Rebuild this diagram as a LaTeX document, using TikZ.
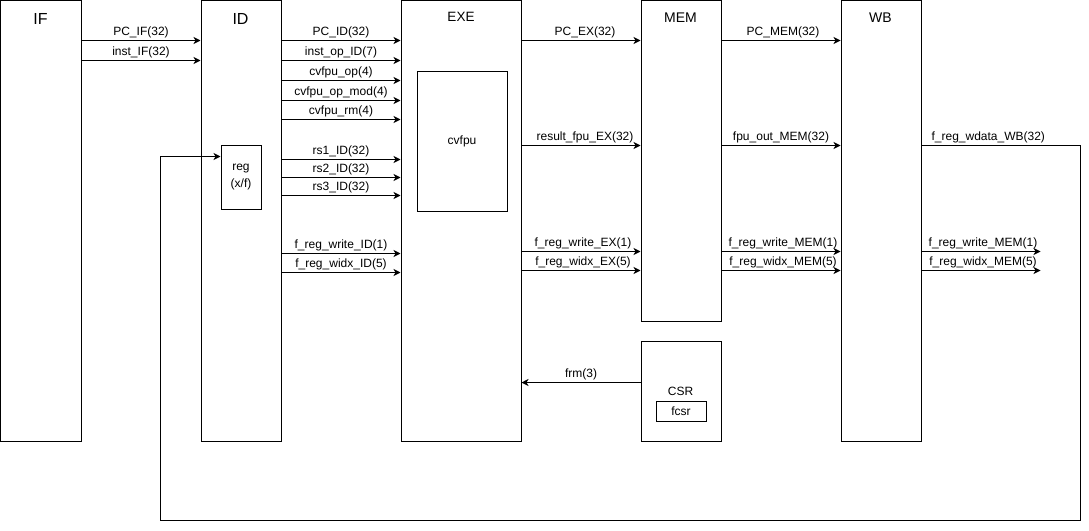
\documentclass[tikz,border=0pt]{standalone}
\usepackage{fontspec}
\setmainfont{Liberation Sans}
\usetikzlibrary{arrows.meta}
\newcommand{\sg}[5][]{\draw[sig] (#2.east |- 0,#4) -- node[lbl,#1]{#5} (#3.west |- 0,#4);}
\begin{document}
\begin{tikzpicture}[x=1pt,y=-1pt,
  every node/.style={font=\fontsize{12}{14}\selectfont},
  box/.style={draw, line width=1pt, anchor=north west, inner sep=0pt},
  sig/.style={line width=1pt, -{Stealth[length=7pt,width=7pt,inset=2pt]}},
  lbl/.style={above, inner sep=0pt, yshift=2.5pt},
  ttl/.style={inner sep=0pt}]
\useasboundingbox (-0.5,-0.5) rectangle (1088.5,529.5);
% stages
\node[box, minimum width=80pt, minimum height=440pt] (IF) at (0,0) {};
\node[box, minimum width=80pt, minimum height=440pt] (ID) at (200,0) {};
\node[box, minimum width=120pt, minimum height=440pt] (EXE) at (400,0) {};
\node[box, minimum width=80pt, minimum height=320pt] (MEM) at (640,0) {};
\node[box, minimum width=80pt, minimum height=440pt] (WB) at (840,0) {};
\node[box, minimum width=80pt, minimum height=100pt] (CSR) at (640,340) {};
% titles
\node[ttl, font=\fontsize{16}{18}\selectfont] (IFt) at (40,18) {IF};
\node[ttl, font=\fontsize{16}{18}\selectfont] (IDt) at (240,18) {ID};
\node[ttl, font=\fontsize{13.5}{15}\selectfont] (EXEt) at (460.5,16.8) {EXE};
\node[ttl, font=\fontsize{14}{16}\selectfont] (MEMt) at (680,17.2) {MEM};
\node[ttl, font=\fontsize{14}{16}\selectfont] (WBt) at (880,17.2) {WB};
% inner boxes
\node[box, minimum width=40pt, minimum height=64pt, align=center,
      font=\fontsize{12}{17}\selectfont] (reg) at (220,144) {reg\\(x/f)};
\node[box, minimum width=90pt, minimum height=140pt] (cvfpu) at (416,70) {cvfpu};
\node[ttl] (CSRt) at (680,391) {CSR};
\node[box, minimum width=50pt, minimum height=20pt] (fcsr) at (655,400) {fcsr};
% IF -> ID
\sg{IF}{ID}{40}{PC\_IF(32)}
\sg{IF}{ID}{60}{inst\_IF(32)}
% ID -> EXE
\sg{ID}{EXE}{40}{PC\_ID(32)}
\sg{ID}{EXE}{60}{inst\_op\_ID(7)}
\sg{ID}{EXE}{80}{cvfpu\_op(4)}
\sg{ID}{EXE}{100}{cvfpu\_op\_mod(4)}
\sg{ID}{EXE}{119}{cvfpu\_rm(4)}
\sg{ID}{EXE}{159}{rs1\_ID(32)}
\sg{ID}{EXE}{177}{rs2\_ID(32)}
\sg{ID}{EXE}{195}{rs3\_ID(32)}
\sg{ID}{EXE}{253}{f\_reg\_write\_ID(1)}
\sg{ID}{EXE}{272}{f\_reg\_widx\_ID(5)}
% EXE -> MEM
\sg[xshift=4pt]{EXE}{MEM}{40}{PC\_EX(32)}
\sg[xshift=4pt]{EXE}{MEM}{145}{result\_fpu\_EX(32)}
\sg[xshift=2pt]{EXE}{MEM}{251}{f\_reg\_write\_EX(1)}
\sg[xshift=2pt]{EXE}{MEM}{270}{f\_reg\_widx\_EX(5)}
% MEM -> WB
\sg[xshift=2pt]{MEM}{WB}{40}{PC\_MEM(32)}
\sg{MEM}{WB}{145}{fpu\_out\_MEM(32)}
\sg[xshift=2pt]{MEM}{WB}{251}{f\_reg\_write\_MEM(1)}
\sg[xshift=2pt]{MEM}{WB}{270}{f\_reg\_widx\_MEM(5)}
% WB outputs
\coordinate (o1) at (1040,251);
\coordinate (o2) at (1040,270);
\draw[sig] (WB.east |- o1) -- node[lbl, xshift=2pt]{f\_reg\_write\_MEM(1)} (o1);
\draw[sig] (WB.east |- o2) -- node[lbl, xshift=2pt]{f\_reg\_widx\_MEM(5)} (o2);
% feedback
\coordinate (fbA) at (1080,520);
\coordinate (fbB) at (160,520);
\draw[sig] (WB.east |- 0,145) -| node[lbl, pos=0.21]{f\_reg\_wdata\_WB(32)} (fbA) -- (fbB) |- (reg.west |- 0,156);
% CSR -> EXE
\draw[sig] (CSR.west |- 0,382) -- node[lbl]{frm(3)} (EXE.east |- 0,382);
\end{tikzpicture}
\end{document}
